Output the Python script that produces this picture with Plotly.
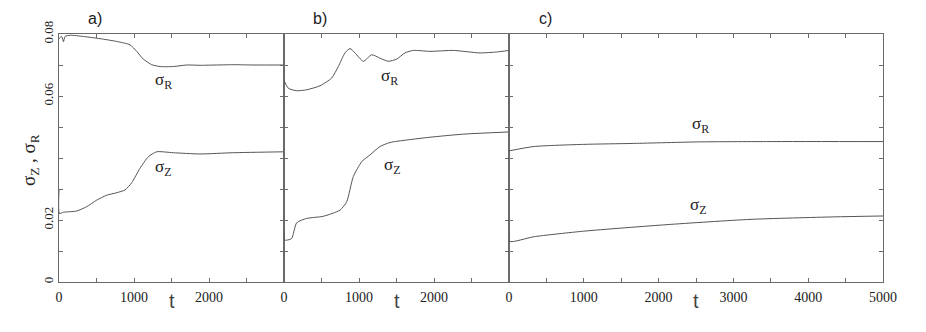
import plotly.graph_objects as go

# ---- data ----
a_t_R = [0, 35, 60, 80, 150, 324, 547, 769, 947, 1036, 1124, 1236, 1347, 1524, 1702, 1880, 2100, 2324, 2600, 3000]
a_R   = [0.0785, 0.0792, 0.0775, 0.0792, 0.0796, 0.0792, 0.0785, 0.0776, 0.0765, 0.0744, 0.0719, 0.0701, 0.0695, 0.0695, 0.0700, 0.0699, 0.0700, 0.0701, 0.0700, 0.0700]
a_t_Z = [0, 5, 58, 236, 369, 502, 636, 769, 880, 969, 1080, 1191, 1302, 1524, 1880, 2324, 3000]
a_Z   = [0.0297, 0.0221, 0.0225, 0.0229, 0.0243, 0.0264, 0.0280, 0.0288, 0.0297, 0.0320, 0.0367, 0.0404, 0.0420, 0.0417, 0.0413, 0.0417, 0.0420]

b_t_R = [0, 58, 169, 302, 480, 636, 724, 813, 880, 947, 1058, 1169, 1280, 1391, 1502, 1613, 1724, 1947, 2258, 2613, 2836, 3000]
b_R   = [0.0650, 0.0625, 0.0617, 0.0620, 0.0633, 0.0658, 0.0695, 0.0739, 0.0753, 0.0739, 0.0712, 0.0733, 0.0722, 0.0712, 0.0719, 0.0739, 0.0747, 0.0744, 0.0747, 0.0739, 0.0742, 0.0747]
b_t_Z = [0, 5, 36, 102, 169, 302, 524, 747, 836, 924, 1036, 1147, 1280, 1413, 1636, 1947, 2391, 3000]
b_Z   = [0.0167, 0.0135, 0.0135, 0.0140, 0.0191, 0.0205, 0.0212, 0.0232, 0.0259, 0.0340, 0.0388, 0.0410, 0.0437, 0.0450, 0.0458, 0.0467, 0.0477, 0.0484]

c_t_R = [0, 333, 1000, 1667, 2556, 3444, 5000]
c_R   = [0.0423, 0.0437, 0.0444, 0.0447, 0.0452, 0.0453, 0.0453]
c_t_Z = [0, 8, 333, 1000, 2111, 3222, 4333, 5000]
c_Z   = [0.0167, 0.0131, 0.0146, 0.0164, 0.0185, 0.0202, 0.0210, 0.0213]

x_ticks_ab = [0, 500, 1000, 1500, 2000, 2500, 3000]
x_text_ab  = ["0", "", "1000", "", "2000", "", ""]
x_ticks_c  = [0, 500, 1000, 1500, 2000, 2500, 3000, 3500, 4000, 4500, 5000]
x_text_c   = ["0", "", "1000", "", "2000", "", "3000", "", "4000", "", "5000"]
y_ticks = [0, 0.01, 0.02, 0.03, 0.04, 0.05, 0.06, 0.07, 0.08]
y_text  = ["0", "", "0.02", "", "", "", "0.06", "", "0.08"]

panel_labels = ["a)", "b)", "c)"]
x_ranges = [[0, 3000], [0, 3000], [0, 5000]]

LINE = "#555555"
FRAME = "#6a6a6a"
TXT = "#222222"
SERIF = "Liberation Serif, Times New Roman, serif"
SANS = "Liberation Sans, Arial, sans-serif"

fig = go.Figure()
series = [(a_t_R, a_R, a_t_Z, a_Z), (b_t_R, b_R, b_t_Z, b_Z), (c_t_R, c_R, c_t_Z, c_Z)]
for i, (tr, r, tz, z) in enumerate(series):
    xa = "x" if i == 0 else f"x{i+1}"
    ya = "y" if i == 0 else f"y{i+1}"
    for tt, vv in ((tr, r), (tz, z)):
        fig.add_trace(go.Scatter(x=tt, y=vv, mode="lines", xaxis=xa, yaxis=ya,
                                 line=dict(color=LINE, width=1, shape="spline", smoothing=0.6),
                                 showlegend=False, hoverinfo="skip"))

W = 824.0
H = 248.0
doms = [[0, 225 / W], [225 / W, 450 / W], [450 / W, 1.0]]
common = dict(showline=True, linecolor=FRAME, linewidth=1, mirror="ticks",
              ticks="inside", ticklen=4, tickcolor=FRAME, showgrid=False,
              zeroline=False)
layout = {}
for i in range(3):
    xk = "xaxis" if i == 0 else f"xaxis{i+1}"
    yk = "yaxis" if i == 0 else f"yaxis{i+1}"
    tv = x_ticks_c if i == 2 else x_ticks_ab
    tx = x_text_c if i == 2 else x_text_ab
    layout[xk] = dict(domain=doms[i], range=x_ranges[i], tickvals=tv, ticktext=tx,
                      anchor="y" if i == 0 else f"y{i+1}", ticklabelstandoff=2,
                      tickfont=dict(family=SERIF, size=14, color=TXT), **common)
    layout[yk] = dict(domain=[0, 1], range=[0, 0.08], tickvals=y_ticks,
                      ticktext=y_text if i == 0 else [""] * len(y_ticks),
                      showticklabels=(i == 0), tickangle=-90,
                      anchor="x" if i == 0 else f"x{i+1}",
                      tickfont=dict(family=SERIF, size=13, color=TXT), **common)
fig.update_layout(**layout)

ann = []
# panel labels
for i, lab in enumerate(panel_labels):
    px0 = doms[i][0] + 36 / W
    ann.append(dict(text=lab, x=px0, y=1 + 16 / H, xref="paper", yref="paper",
                    xanchor="center", yanchor="middle", showarrow=False,
                    font=dict(family=SANS, size=16, color=TXT)))
# x titles
for i in range(3):
    xr = "x" if i == 0 else f"x{i+1}"
    ann.append(dict(text="t", x=(x_ranges[i][0] + x_ranges[i][1]) / 2, y=-19 / H,
                    xref=xr, yref="paper", xanchor="center", yanchor="middle",
                    showarrow=False, font=dict(family=SANS, size=20, color="#444444")))
# curve labels
curve_labels = [("x", "y", 1387, 0.0650, "R"), ("x", "y", 1387, 0.0368, "Z"),
                ("x2", "y2", 1413, 0.0660, "R"), ("x2", "y2", 1440, 0.0375, "Z"),
                ("x3", "y3", 2560, 0.0505, "R"), ("x3", "y3", 2533, 0.0246, "Z")]
for xr, yr, xv, yv, s in curve_labels:
    ann.append(dict(text=f"σ<sub>{s}</sub>", x=xv, y=yv, xref=xr, yref=yr,
                    xanchor="center", yanchor="middle",
                    showarrow=False, font=dict(family=SERIF, size=17, color=TXT)))
# y title
ann.append(dict(text="σ<sub>Z</sub> , σ<sub>R</sub>", x=-29 / W, y=(282 - 160) / H,
                xref="paper", yref="paper", textangle=-90, xanchor="center",
                yanchor="middle", showarrow=False,
                font=dict(family=SERIF, size=19, color=TXT)))

# page body adds an 8 px offset; margins compensate so the plot area sits at x 59-883, y 34-282
fig.update_layout(width=926, height=332, margin=dict(l=51, r=51, t=26, b=58),
                  paper_bgcolor="white", plot_bgcolor="white", annotations=ann)
fig.write_html("out.html")
